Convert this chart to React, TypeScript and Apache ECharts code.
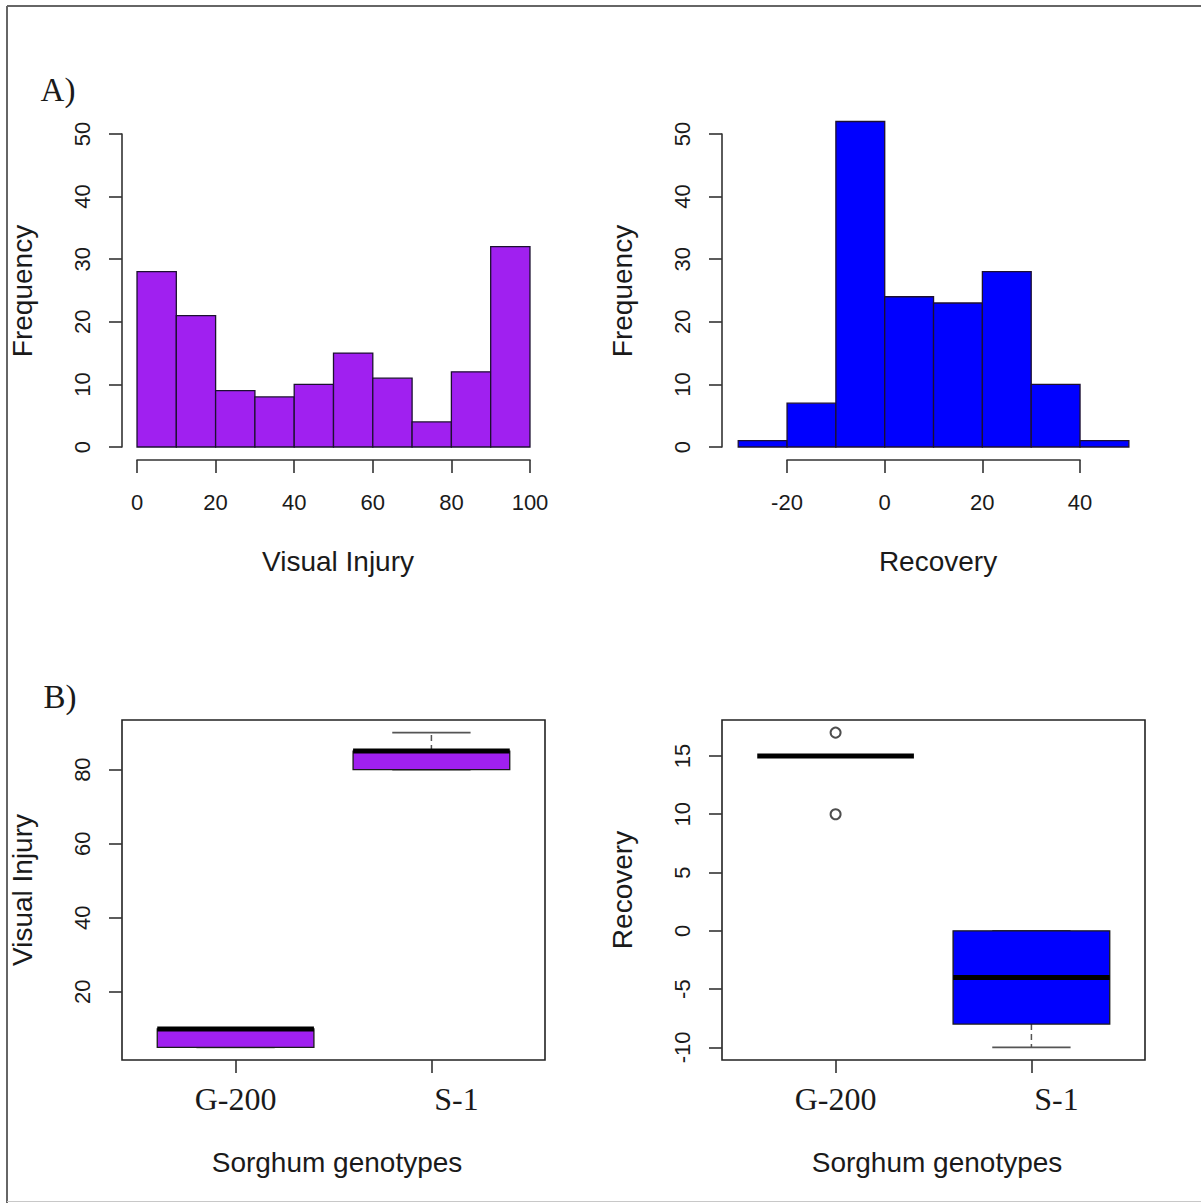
import React, { useEffect, useRef } from "react";
import * as echarts from "echarts";

// ---------- data ----------
const injuryBreaks = [0, 10, 20, 30, 40, 50, 60, 70, 80, 90, 100];
const injuryCounts = [28, 21, 9, 8, 10, 15, 11, 4, 12, 32];
const recoveryBreaks = [-30, -20, -10, 0, 10, 20, 30, 40, 50];
const recoveryCounts = [1, 7, 52, 24, 23, 28, 10, 1];

const genotypes = ["G-200", "S-1"];
const injuryMin = [5, 80];
const injuryQ1 = [5, 80];
const injuryMed = [10, 85];
const injuryQ3 = [10, 85];
const injuryMax = [10, 90];

const recoveryMin = [15, -10];
const recoveryQ1 = [15, -8];
const recoveryMed = [15, -4];
const recoveryQ3 = [15, 0];
const recoveryMax = [15, 0];
const recoveryOutliersG200 = [17, 10];

// ---------- styling ----------
const SANS = '"Liberation Sans", Arial, Helvetica, sans-serif';
const SERIF = '"Liberation Serif", "Times New Roman", serif';
const AXIS_COLOR = "#333";
const TEXT_COLOR = "#1a1a1a";
const PURPLE = "#A020F0";
const BLUE = "#0000FF";

const histData = (breaks: number[], counts: number[]) =>
  counts.map((c, i) => [breaks[i], breaks[i + 1], c]);

const boxData = (mn: number[], q1: number[], md: number[], q3: number[], mx: number[]) =>
  mn.map((_, i) => [i + 1, mn[i], q1[i], md[i], q3[i], mx[i]]);

const histRender = (color: string) => (params: any, api: any) => {
  const p0 = api.coord([api.value(0), api.value(2)]);
  const p1 = api.coord([api.value(1), 0]);
  return {
    type: "rect",
    shape: { x: p0[0], y: p0[1], width: p1[0] - p0[0], height: p1[1] - p0[1] },
    style: { fill: color, stroke: "#1c1030", lineWidth: 1.3 },
  };
};

const boxRender = (color: string) => (params: any, api: any) => {
  const x = api.value(0);
  const mn = api.value(1), q1 = api.value(2), md = api.value(3), q3 = api.value(4), mx = api.value(5);
  const hw = 0.4, sw = 0.2;
  const c = api.coord([x, md])[0];
  const y = (v: number) => api.coord([x, v])[1];
  const xl = api.coord([x - hw, md])[0];
  const xr = api.coord([x + hw, md])[0];
  const sl = api.coord([x - sw, md])[0];
  const sr = api.coord([x + sw, md])[0];
  const children: any[] = [];
  const whisk = { stroke: "#555", lineWidth: 1.5, lineDash: [6, 4] };
  const staple = { stroke: "#555", lineWidth: 1.6 };
  if (mn < q1) children.push({ type: "line", shape: { x1: c, y1: y(q1), x2: c, y2: y(mn) }, style: whisk });
  if (mx > q3) children.push({ type: "line", shape: { x1: c, y1: y(q3), x2: c, y2: y(mx) }, style: whisk });
  children.push({ type: "line", shape: { x1: sl, y1: y(mn), x2: sr, y2: y(mn) }, style: staple });
  children.push({ type: "line", shape: { x1: sl, y1: y(mx), x2: sr, y2: y(mx) }, style: staple });
  if (q3 > q1) {
    children.push({
      type: "rect",
      shape: { x: xl, y: y(q3), width: xr - xl, height: y(q1) - y(q3) },
      style: { fill: color, stroke: "#1a1a1a", lineWidth: 1.3 },
    });
  }
  children.push({ type: "line", shape: { x1: xl, y1: y(md), x2: xr, y2: y(md) }, style: { stroke: "#000", lineWidth: 5 } });
  return { type: "group", children };
};

const hiddenAxis = (gridIndex: number, min: number, max: number) => ({
  gridIndex, type: "value", min, max, show: false, splitLine: { show: false },
});

const visibleValueAxis = (gridIndex: number, min: number, max: number, interval: number, isY: boolean, showLine: boolean) => ({
  gridIndex, type: "value", min, max, interval,
  position: isY ? "left" : "bottom",
  axisLine: { show: showLine, lineStyle: { color: AXIS_COLOR, width: 1.6 } },
  axisTick: { show: true, length: 13, lineStyle: { color: AXIS_COLOR, width: 1.6 } },
  axisLabel: {
    show: true, fontSize: 22, fontFamily: SANS, color: TEXT_COLOR,
    rotate: isY ? 90 : 0, margin: isY ? 29 : 31,
  },
  splitLine: { show: false },
});

const catAxis = (gridIndex: number) => ({
  gridIndex, type: "category", data: genotypes, boundaryGap: false, position: "bottom",
  axisLine: { show: false },
  axisTick: { show: true, length: 13, interval: 0, lineStyle: { color: AXIS_COLOR, width: 1.6 } },
  axisLabel: {
    show: true, interval: 0, fontSize: 32, fontFamily: SERIF, color: TEXT_COLOR, margin: 23,
    formatter: (v: string) => (v === "S-1" ? "{s|" + v + "}" : v),
    rich: { s: { fontSize: 32, fontFamily: SERIF, color: TEXT_COLOR, padding: [0, 0, 0, 50] } },
  },
  splitLine: { show: false },
});

const g = (left: number, top: number, width: number, height: number, frame = false) => ({
  left, top, width, height, show: frame, borderColor: "#222", borderWidth: 1.6, backgroundColor: "transparent",
});

const App: React.FC = () => {
  const ref = useRef<HTMLDivElement>(null);
  useEffect(() => {
    if (!ref.current) return;
    const chart = echarts.init(ref.current, null, { renderer: "svg" });

    // Layout (pixels)
    const h1x = [-4, 104], h1y = [-2, 52];
    const h2x = [-33.2, 53.2];
    const bx = [0.42, 2.58];
    const b1y = [1.6, 93.4];
    const b2y = [-11.08, 18.08];

    const boxTop = 720, boxH = 340;
    const b1Scale = boxH / (b1y[1] - b1y[0]);
    const b2Scale = boxH / (b2y[1] - b2y[0]);
    const bxScale = 423 / (bx[1] - bx[0]);

    const grids = [
      g(121.3, 121.5, 424.4, 338), // 0 hist1 data
      g(137, 447, 393, 13), // 1 hist1 x axis
      g(122, 134, 15, 313), // 2 hist1 y axis
      g(722.6, 121.5, 421.9, 338), // 3 hist2 data
      g(787, 447, 293, 13), // 4 hist2 x axis
      g(722, 134, 15, 313), // 5 hist2 y axis
      g(122, boxTop, 423, boxH, true), // 6 box1 data
      g(122 + (1 - bx[0]) * bxScale, boxTop + boxH - 10, bxScale, 10), // 7 box1 x axis
      g(122, boxTop + (b1y[1] - 80) * b1Scale, 10, 60 * b1Scale), // 8 box1 y axis
      g(722, boxTop, 423, boxH, true), // 9 box2 data
      g(722 + (1 - bx[0]) * bxScale, boxTop + boxH - 10, bxScale, 10), // 10 box2 x axis
      g(722, boxTop + (b2y[1] - 15) * b2Scale, 10, 25 * b2Scale), // 11 box2 y axis
    ];

    const xAxis = [
      hiddenAxis(0, h1x[0], h1x[1]),
      visibleValueAxis(1, 0, 100, 20, false, true),
      hiddenAxis(2, 0, 1),
      hiddenAxis(3, h2x[0], h2x[1]),
      visibleValueAxis(4, -20, 40, 20, false, true),
      hiddenAxis(5, 0, 1),
      hiddenAxis(6, bx[0], bx[1]),
      catAxis(7),
      hiddenAxis(8, 0, 1),
      hiddenAxis(9, bx[0], bx[1]),
      catAxis(10),
      hiddenAxis(11, 0, 1),
    ];
    const yAxis = [
      hiddenAxis(0, h1y[0], h1y[1]),
      hiddenAxis(1, 0, 1),
      visibleValueAxis(2, 0, 50, 10, true, true),
      hiddenAxis(3, h1y[0], h1y[1]),
      hiddenAxis(4, 0, 1),
      visibleValueAxis(5, 0, 50, 10, true, true),
      hiddenAxis(6, b1y[0], b1y[1]),
      hiddenAxis(7, 0, 1),
      visibleValueAxis(8, 20, 80, 20, true, false),
      hiddenAxis(9, b2y[0], b2y[1]),
      hiddenAxis(10, 0, 1),
      visibleValueAxis(11, -10, 15, 5, true, false),
    ];

    const titleStyle = (text: string, size: number, family: string, weight = "normal") => ({
      text, fill: TEXT_COLOR, fontSize: size, fontFamily: family, fontWeight: weight,
      align: "center", verticalAlign: "middle", textAlign: "center", textVerticalAlign: "middle",
    });

    const graphic = [
      { type: "line", shape: { x1: 7, y1: 6, x2: 1201, y2: 6 }, style: { stroke: "#666", lineWidth: 2 } },
      { type: "line", shape: { x1: 7, y1: 6, x2: 7, y2: 1203 }, style: { stroke: "#666", lineWidth: 2 } },
      { type: "line", shape: { x1: 7, y1: 1201.5, x2: 1201, y2: 1201.5 }, style: { stroke: "#c8c8c8", lineWidth: 1 } },
      { type: "text", x: 58, y: 90, style: titleStyle("A)", 33, SERIF) },
      { type: "text", x: 60, y: 697, style: titleStyle("B)", 33, SERIF) },
      { type: "text", x: 338, y: 561, style: titleStyle("Visual Injury", 28, SANS) },
      { type: "text", x: 938, y: 561, style: titleStyle("Recovery", 28, SANS) },
      { type: "text", x: 22, y: 291, rotation: Math.PI / 2, style: titleStyle("Frequency", 28, SANS) },
      { type: "text", x: 622, y: 291, rotation: Math.PI / 2, style: titleStyle("Frequency", 28, SANS) },
      { type: "text", x: 337, y: 1162, style: titleStyle("Sorghum genotypes", 28, SANS) },
      { type: "text", x: 937, y: 1162, style: titleStyle("Sorghum genotypes", 28, SANS) },
      { type: "text", x: 22, y: 890, rotation: Math.PI / 2, style: titleStyle("Visual Injury", 28, SANS) },
      { type: "text", x: 622, y: 890, rotation: Math.PI / 2, style: titleStyle("Recovery", 28, SANS) },
    ];

    chart.setOption({
      animation: false,
      backgroundColor: "#ffffff",
      grid: grids,
      xAxis,
      yAxis,
      graphic,
      series: [
        {
          type: "custom", xAxisIndex: 0, yAxisIndex: 0, renderItem: histRender(PURPLE),
          encode: { x: [0, 1], y: 2 }, data: histData(injuryBreaks, injuryCounts), clip: false,
        },
        {
          type: "custom", xAxisIndex: 3, yAxisIndex: 3, renderItem: histRender(BLUE),
          encode: { x: [0, 1], y: 2 }, data: histData(recoveryBreaks, recoveryCounts), clip: false,
        },
        {
          type: "custom", xAxisIndex: 6, yAxisIndex: 6, renderItem: boxRender(PURPLE),
          encode: { x: 0, y: [1, 2, 3, 4, 5] },
          data: boxData(injuryMin, injuryQ1, injuryMed, injuryQ3, injuryMax), clip: false,
        },
        {
          type: "custom", xAxisIndex: 9, yAxisIndex: 9, renderItem: boxRender(BLUE),
          encode: { x: 0, y: [1, 2, 3, 4, 5] },
          data: boxData(recoveryMin, recoveryQ1, recoveryMed, recoveryQ3, recoveryMax), clip: false,
        },
        {
          type: "scatter", xAxisIndex: 9, yAxisIndex: 9, symbol: "emptyCircle", symbolSize: 10,
          itemStyle: { color: "#222", borderColor: "#222", borderWidth: 1.5 },
          data: recoveryOutliersG200.map((v) => [1, v]),
        },
      ],
    });
    return () => chart.dispose();
  }, []);

  return (
    <div
      ref={ref}
      style={{ position: "absolute", left: 0, top: 0, width: 1201, height: 1203, background: "#fff" }}
    />
  );
};

export default App;
